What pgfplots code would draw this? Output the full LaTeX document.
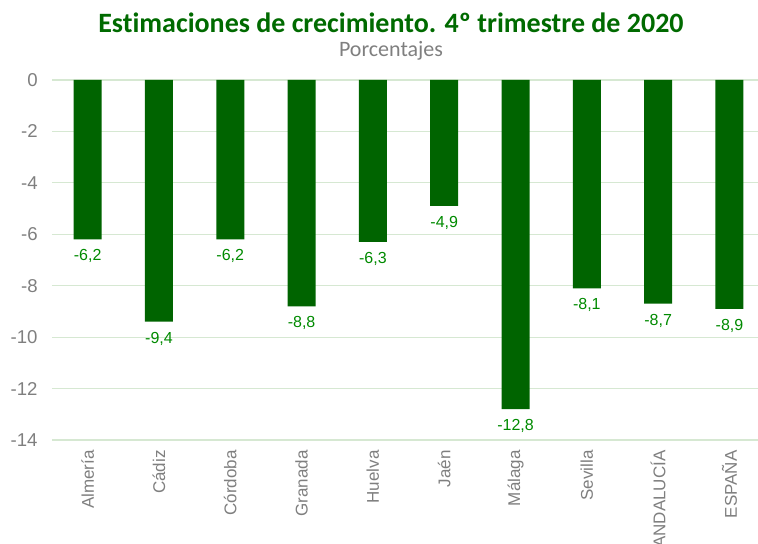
\documentclass[border=0pt]{standalone}
\usepackage{fontspec}
\setmainfont{Liberation Sans}
\newfontfamily\titlefont[Ligatures=NoCommon]{Carlito}
\usepackage{pgfplots}
\pgfplotsset{compat=1.18}
\definecolor{bargreen}{HTML}{006400}
\definecolor{titlegreen}{HTML}{006A00}
\definecolor{valgreen}{HTML}{008A00}
\definecolor{gridgreen}{HTML}{D6E8D2}
\definecolor{txtgray}{HTML}{7F7F7F}

\begin{document}
\begin{tikzpicture}
% growth estimates, Q4 2020 (%)
\begin{axis}[
    scale only axis, width=353pt, height=180pt,
    ybar, bar width=14pt,
    xmin=-0.5, xmax=9.4, ymin=-14, ymax=0,
    xtick=data,
    xticklabels={Almería,Cádiz,Córdoba,Granada,Huelva,Jaén,Málaga,Sevilla,ANDALUCÍA,ESPAÑA},
    ytick={-14,-12,...,0},
    axis line style={draw=none}, major tick length=0pt,
    ymajorgrids, grid style={gridgreen, line width=0.6pt},
    /pgf/number format/assume math mode=true,
    yticklabel style={font=\fontsize{9.3}{10}\selectfont, text=txtgray, inner sep=0pt, xshift=-7pt},
    xticklabel style={font=\fontsize{8.5}{10}\selectfont, text=txtgray, rotate=90, anchor=east, inner sep=0pt},
    xticklabel shift=5pt,
    nodes near coords={\pgfmathprintnumber[use comma, fixed, fixed zerofill, precision=1]{\pgfplotspointmeta}},
    nodes near coords style={font=\fontsize{8}{10}\selectfont, text=valgreen, anchor=north, inner sep=0pt, yshift=-5pt},
]
\addplot[fill=bargreen, draw=none] coordinates
  {(0,-6.2)(1,-9.4)(2,-6.2)(3,-8.8)(4,-6.3)(5,-4.9)(6,-12.8)(7,-8.1)(8,-8.7)(9,-8.9)};
\end{axis}
\node[anchor=base, text=titlegreen, font=\titlefont\bfseries\fontsize{14}{16}\selectfont] at (169.5pt,203.5pt)
  {Estimaciones de crecimiento. 4º trimestre de 2020};
\node[anchor=base, text=txtgray, font=\titlefont\fontsize{11}{13}\selectfont] at (169.5pt,191.5pt) {Porcentajes};
\pgfresetboundingbox
\path (-26pt,-52pt) rectangle (353pt,220pt);
\end{tikzpicture}
\end{document}
